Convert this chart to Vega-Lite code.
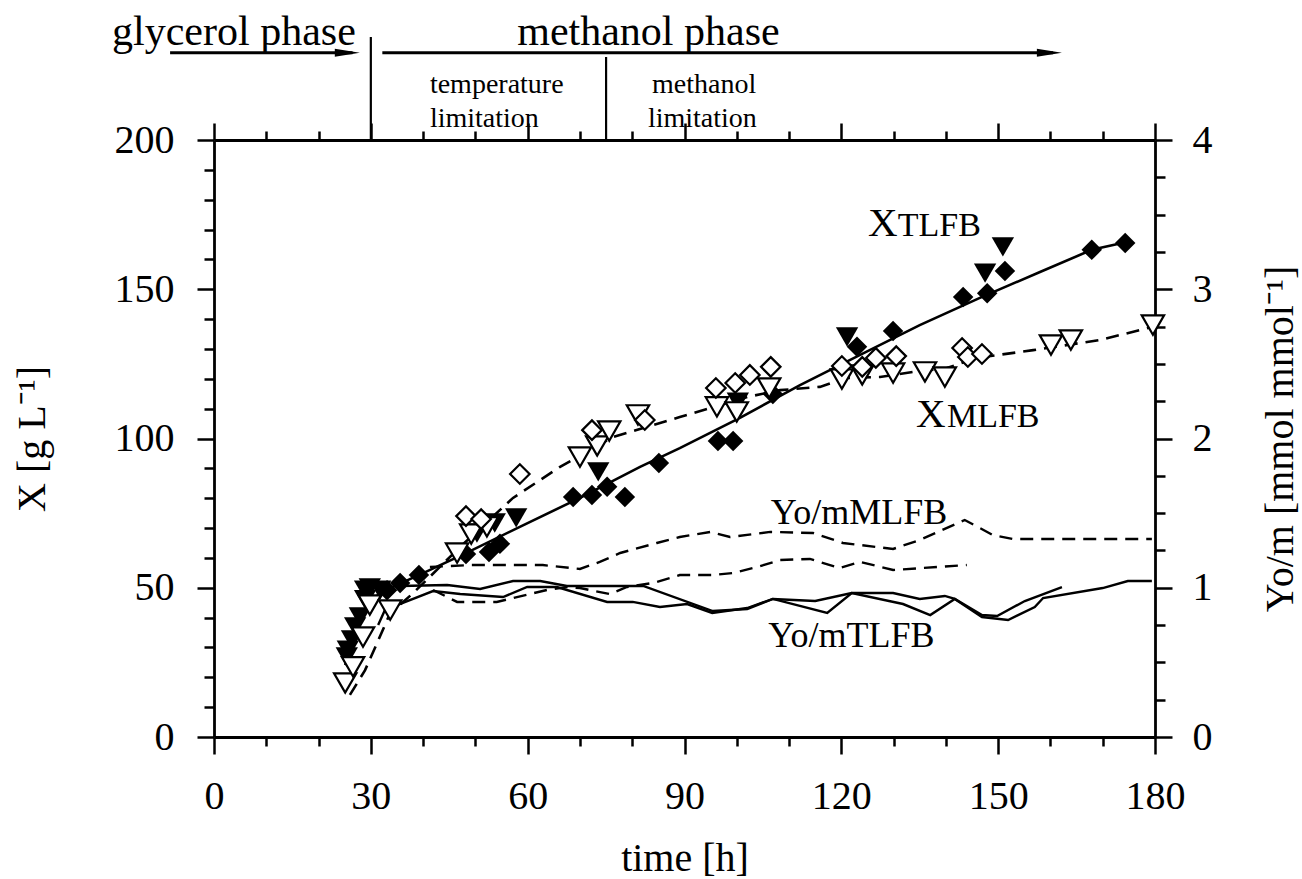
{
  "$schema": "https://vega.github.io/schema/vega-lite/v6.json",
  "width": 941,
  "height": 597,
  "autosize": "none",
  "padding": {"left": 214, "top": 140, "right": 147, "bottom": 142},
  "background": "white",
  "config": {
    "view": {"stroke": null},
    "font": "Liberation Serif",
    "text": {"font": "Liberation Serif", "color": "black"},
    "axis": {
      "grid": false,
      "domainColor": "black",
      "domainWidth": 2.8,
      "tickColor": "black",
      "tickWidth": 2.5,
      "labelColor": "black",
      "titleColor": "black",
      "labelFont": "Liberation Serif",
      "titleFont": "Liberation Serif",
      "labelFontSize": 40,
      "titleFontSize": 40,
      "titleFontWeight": "normal",
      "labelFlush": false,
      "labelOverlap": false,
      "labelBound": false
    }
  },
  "datasets": {
    "fitT": [
      {"t": 25.1, "X": 24.1}, {"t": 27.0, "X": 35.8}, {"t": 29.8, "X": 45.9}, {"t": 33.7, "X": 49.9},
      {"t": 40.0, "X": 54.9}, {"t": 48.2, "X": 61.6}, {"t": 58.5, "X": 70.4}, {"t": 70.0, "X": 80.1},
      {"t": 81.5, "X": 90.5}, {"t": 89.1, "X": 96.8}, {"t": 100.6, "X": 106.9}, {"t": 112.1, "X": 117.9},
      {"t": 123.6, "X": 128.0}, {"t": 135.0, "X": 138.0}, {"t": 146.5, "X": 147.1}, {"t": 158.0, "X": 155.8},
      {"t": 167.9, "X": 163.2}, {"t": 174.6, "X": 165.8}
    ],
    "fitM": [
      {"t": 26.0, "X": 14.1}, {"t": 28.9, "X": 22.4}, {"t": 31.2, "X": 31.5}, {"t": 33.7, "X": 41.5},
      {"t": 38.1, "X": 48.2}, {"t": 47.1, "X": 63.7}, {"t": 57.2, "X": 80.1}, {"t": 66.2, "X": 90.5},
      {"t": 76.3, "X": 100.5}, {"t": 82.8, "X": 103.9}, {"t": 89.1, "X": 107.2}, {"t": 102.0, "X": 113.9},
      {"t": 108.3, "X": 116.2}, {"t": 115.9, "X": 117.3}, {"t": 121.1, "X": 120.3}, {"t": 127.4, "X": 120.6},
      {"t": 133.7, "X": 122.3}, {"t": 140.2, "X": 123.6}, {"t": 145.9, "X": 127.0}, {"t": 156.7, "X": 129.6},
      {"t": 169.5, "X": 133.0}, {"t": 179.6, "X": 137.4}
    ],
    "yT": [
      {"run": "T1", "t": 35.6, "Y": 1.012}, {"run": "T1", "t": 44.6, "Y": 1.018}, {"run": "T1", "t": 50.9, "Y": 0.992},
      {"run": "T1", "t": 57.2, "Y": 1.045}, {"run": "T1", "t": 62.4, "Y": 1.045}, {"run": "T1", "t": 67.5, "Y": 1.012},
      {"run": "T1", "t": 82.1, "Y": 1.012}, {"run": "T1", "t": 95.4, "Y": 0.844}, {"run": "T1", "t": 102.0, "Y": 0.858},
      {"run": "T1", "t": 106.9, "Y": 0.925}, {"run": "T1", "t": 115.0, "Y": 0.911}, {"run": "T1", "t": 122.0, "Y": 0.965},
      {"run": "T1", "t": 129.9, "Y": 0.965}, {"run": "T1", "t": 135.0, "Y": 0.925}, {"run": "T1", "t": 139.8, "Y": 0.945},
      {"run": "T1", "t": 141.7, "Y": 0.925}, {"run": "T1", "t": 146.9, "Y": 0.817}, {"run": "T1", "t": 149.8, "Y": 0.811},
      {"run": "T1", "t": 155.1, "Y": 0.911}, {"run": "T1", "t": 162.2, "Y": 1.005},
      {"run": "T2", "t": 31.4, "Y": 0.75}, {"run": "T2", "t": 32.7, "Y": 0.851}, {"run": "T2", "t": 41.9, "Y": 0.978},
      {"run": "T2", "t": 47.1, "Y": 0.958}, {"run": "T2", "t": 55.3, "Y": 0.938}, {"run": "T2", "t": 59.9, "Y": 1.005},
      {"run": "T2", "t": 65.6, "Y": 1.005}, {"run": "T2", "t": 75.2, "Y": 0.905}, {"run": "T2", "t": 80.1, "Y": 0.905},
      {"run": "T2", "t": 85.3, "Y": 0.871}, {"run": "T2", "t": 90.5, "Y": 0.891}, {"run": "T2", "t": 95.3, "Y": 0.831},
      {"run": "T2", "t": 102.0, "Y": 0.864}, {"run": "T2", "t": 106.9, "Y": 0.925}, {"run": "T2", "t": 117.3, "Y": 0.831},
      {"run": "T2", "t": 122.0, "Y": 0.965}, {"run": "T2", "t": 131.8, "Y": 0.891}, {"run": "T2", "t": 137.0, "Y": 0.817},
      {"run": "T2", "t": 141.7, "Y": 0.925}, {"run": "T2", "t": 146.9, "Y": 0.804}, {"run": "T2", "t": 151.9, "Y": 0.784},
      {"run": "T2", "t": 157.0, "Y": 0.871}, {"run": "T2", "t": 158.6, "Y": 0.931}, {"run": "T2", "t": 170.0, "Y": 0.998},
      {"run": "T2", "t": 174.8, "Y": 1.045}, {"run": "T2", "t": 179.4, "Y": 1.045}
    ],
    "yM": [
      {"run": "M1", "t": 41.3, "Y": 1.139}, {"run": "M1", "t": 49.0, "Y": 1.152}, {"run": "M1", "t": 62.9, "Y": 1.152},
      {"run": "M1", "t": 70.0, "Y": 1.126}, {"run": "M1", "t": 73.8, "Y": 1.173}, {"run": "M1", "t": 77.7, "Y": 1.233},
      {"run": "M1", "t": 84.7, "Y": 1.300}, {"run": "M1", "t": 89.1, "Y": 1.340}, {"run": "M1", "t": 94.9, "Y": 1.374},
      {"run": "M1", "t": 98.7, "Y": 1.340}, {"run": "M1", "t": 106.4, "Y": 1.374}, {"run": "M1", "t": 114.6, "Y": 1.367},
      {"run": "M1", "t": 120.3, "Y": 1.300}, {"run": "M1", "t": 129.9, "Y": 1.260}, {"run": "M1", "t": 135.0, "Y": 1.320},
      {"run": "M1", "t": 143.6, "Y": 1.454}, {"run": "M1", "t": 149.0, "Y": 1.353}, {"run": "M1", "t": 152.8, "Y": 1.327},
      {"run": "M1", "t": 179.4, "Y": 1.327},
      {"run": "M2", "t": 41.9, "Y": 0.985}, {"run": "M2", "t": 46.5, "Y": 0.905}, {"run": "M2", "t": 54.1, "Y": 0.905},
      {"run": "M2", "t": 57.2, "Y": 0.931}, {"run": "M2", "t": 63.7, "Y": 0.985}, {"run": "M2", "t": 67.5, "Y": 1.005},
      {"run": "M2", "t": 70.0, "Y": 0.998}, {"run": "M2", "t": 75.7, "Y": 0.958}, {"run": "M2", "t": 79.0, "Y": 1.005},
      {"run": "M2", "t": 84.0, "Y": 1.032}, {"run": "M2", "t": 89.1, "Y": 1.085}, {"run": "M2", "t": 95.4, "Y": 1.085},
      {"run": "M2", "t": 99.3, "Y": 1.099}, {"run": "M2", "t": 103.9, "Y": 1.139}, {"run": "M2", "t": 108.3, "Y": 1.186},
      {"run": "M2", "t": 114.0, "Y": 1.193}, {"run": "M2", "t": 119.7, "Y": 1.132}, {"run": "M2", "t": 123.6, "Y": 1.173},
      {"run": "M2", "t": 129.9, "Y": 1.119}, {"run": "M2", "t": 144.0, "Y": 1.152}
    ],
    "triT": [
      {"t": 25.4, "X": 26.8}, {"t": 25.6, "X": 29.1}, {"t": 26.4, "X": 32.5}, {"t": 27.0, "X": 36.9},
      {"t": 27.9, "X": 40.2}, {"t": 28.9, "X": 46.0}, {"t": 28.9, "X": 49.2}, {"t": 29.8, "X": 49.9},
      {"t": 31.8, "X": 49.2}, {"t": 50.3, "X": 68.3}, {"t": 53.7, "X": 71.7}, {"t": 57.8, "X": 73.4},
      {"t": 73.5, "X": 88.8}, {"t": 100.2, "X": 112.2}, {"t": 121.1, "X": 134.0}, {"t": 147.5, "X": 155.4},
      {"t": 150.9, "X": 164.2}
    ],
    "diaT": [
      {"t": 33.1, "X": 49.2}, {"t": 35.6, "X": 51.6}, {"t": 39.2, "X": 54.3}, {"t": 48.2, "X": 61.3},
      {"t": 52.6, "X": 62.0}, {"t": 54.7, "X": 64.7}, {"t": 68.7, "X": 80.4}, {"t": 72.3, "X": 81.1},
      {"t": 75.2, "X": 83.8}, {"t": 78.6, "X": 80.4}, {"t": 85.1, "X": 91.8}, {"t": 96.4, "X": 99.2},
      {"t": 99.3, "X": 99.2}, {"t": 106.9, "X": 114.9}, {"t": 123.0, "X": 130.7}, {"t": 129.9, "X": 136.0},
      {"t": 143.3, "X": 147.4}, {"t": 147.9, "X": 148.7}, {"t": 151.3, "X": 156.1}, {"t": 167.9, "X": 163.2},
      {"t": 174.3, "X": 165.5}
    ],
    "triM": [
      {"t": 25.1, "X": 18.1}, {"t": 26.6, "X": 23.5}, {"t": 28.5, "X": 33.5}, {"t": 29.8, "X": 44.2},
      {"t": 33.7, "X": 42.5}, {"t": 46.5, "X": 61.6}, {"t": 49.2, "X": 68.0}, {"t": 52.2, "X": 70.4},
      {"t": 70.0, "X": 93.8}, {"t": 73.3, "X": 97.5}, {"t": 75.6, "X": 102.5}, {"t": 81.1, "X": 107.9},
      {"t": 96.2, "X": 110.6}, {"t": 100.0, "X": 108.9}, {"t": 106.2, "X": 116.9}, {"t": 120.1, "X": 119.9},
      {"t": 124.0, "X": 121.3}, {"t": 129.9, "X": 121.9}, {"t": 136.0, "X": 122.3}, {"t": 139.8, "X": 120.6},
      {"t": 160.1, "X": 131.3}, {"t": 163.9, "X": 133.0}, {"t": 179.6, "X": 138.0}
    ],
    "diaM": [
      {"t": 48.2, "X": 74.0}, {"t": 51.1, "X": 73.0}, {"t": 58.5, "X": 88.1}, {"t": 72.3, "X": 102.8},
      {"t": 82.4, "X": 106.2}, {"t": 96.0, "X": 116.9}, {"t": 99.7, "X": 118.6}, {"t": 102.5, "X": 121.3},
      {"t": 106.5, "X": 124.0}, {"t": 120.1, "X": 124.3}, {"t": 124.0, "X": 124.0}, {"t": 126.6, "X": 127.0},
      {"t": 130.5, "X": 127.6}, {"t": 143.1, "X": 130.3}, {"t": 144.2, "X": 127.3}, {"t": 146.9, "X": 128.3}
    ],
    "vlines": [
      {"t": 30, "top": 234.5, "bottom": 200},
      {"t": 75, "top": 227.8, "bottom": 200}
    ],
    "arrows": [
      {"from": -8.4, "to": 26.5, "X": 229.2},
      {"from": 32.2, "to": 160.5, "X": 229.2}
    ],
    "heads": [
      {"t": 25.5, "X": 229.2},
      {"t": 159.8, "X": 229.2}
    ],
    "phases": [
      {"t": -19.5, "X": 231.8, "label": "glycerol phase"},
      {"t": 58.0, "X": 231.8, "label": "methanol phase"}
    ],
    "limits": [
      {"t": 41.3, "X": 215.6, "label": "temperature"},
      {"t": 41.3, "X": 204.4, "label": "limitation"},
      {"t": 83.8, "X": 215.6, "label": "methanol"},
      {"t": 83.0, "X": 204.4, "label": "limitation"}
    ],
    "seriesBig": [
      {"t": 125.1, "X": 167.8, "label": "X"},
      {"t": 134.3, "X": 103.9, "label": "X"}
    ],
    "seriesSub": [
      {"t": 130.8, "X": 167.8, "label": "TLFB"},
      {"t": 140.2, "X": 103.9, "label": "MLFB"}
    ],
    "seriesY": [
      {"t": 106.5, "X": 71.2, "label": "Yo/mMLFB"},
      {"t": 106.0, "X": 30.0, "label": "Yo/mTLFB"}
    ]
  },
  "resolve": {"scale": {"y": "independent"}, "axis": {"x": "independent", "y": "independent"}},
  "layer": [
    {
      "data": {"name": "fitT"},
      "mark": {"type": "line", "color": "black", "strokeWidth": 2.6},
      "encoding": {
        "x": {"field": "t", "type": "quantitative", "scale": {"domain": [0, 180], "nice": false},
          "axis": {"orient": "bottom", "title": "time [h]", "values": [0,10,20,30,40,50,60,70,80,90,100,110,120,130,140,150,160,170,180],
            "labelExpr": "datum.value % 30 == 0 ? datum.label : ''",
            "tickSize": {"condition": {"test": "datum.value % 30 == 0", "value": 17}, "value": 9},
            "labelPadding": 22, "titlePadding": 22}},
        "y": {"field": "X", "type": "quantitative", "scale": {"domain": [0, 200], "nice": false},
          "axis": {"orient": "left", "title": "X [g L⁻¹]", "values": [0,10,20,30,40,50,60,70,80,90,100,110,120,130,140,150,160,170,180,190,200],
            "labelExpr": "datum.value % 50 == 0 ? datum.label : ''",
            "tickSize": {"condition": {"test": "datum.value % 50 == 0", "value": 17}, "value": 10},
            "labelPadding": 23, "titlePadding": 62}}
      }
    },
    {
      "data": {"name": "fitM"},
      "mark": {"type": "line", "color": "black", "strokeWidth": 2.6, "strokeDash": [13, 8]},
      "encoding": {
        "x": {"field": "t", "type": "quantitative", "scale": {"domain": [0, 180], "nice": false}, "axis": null},
        "y": {"field": "X", "type": "quantitative", "scale": {"domain": [0, 200], "nice": false}, "axis": null}
      }
    },
    {
      "data": {"name": "yT"},
      "mark": {"type": "line", "color": "black", "strokeWidth": 2.4},
      "encoding": {
        "x": {"field": "t", "type": "quantitative", "scale": {"domain": [0, 180], "nice": false}, "axis": null},
        "y": {"field": "Y", "type": "quantitative", "scale": {"domain": [0, 4], "nice": false},
          "axis": {"orient": "right", "title": "Yo/m [mmol mmol⁻¹]", "titleAngle": 270,
            "values": [0,0.25,0.5,0.75,1,1.25,1.5,1.75,2,2.25,2.5,2.75,3,3.25,3.5,3.75,4],
            "labelExpr": "datum.value % 1 == 0 ? format(datum.value, 'd') : ''",
            "tickSize": {"condition": {"test": "datum.value % 1 == 0", "value": 17}, "value": 10},
            "labelPadding": 20, "titlePadding": 88}},
        "detail": {"field": "run", "type": "nominal"}
      }
    },
    {
      "data": {"name": "yM"},
      "mark": {"type": "line", "color": "black", "strokeWidth": 2.4, "strokeDash": [13, 8]},
      "encoding": {
        "x": {"field": "t", "type": "quantitative", "scale": {"domain": [0, 180], "nice": false}, "axis": null},
        "y": {"field": "Y", "type": "quantitative", "scale": {"domain": [0, 4], "nice": false}, "axis": null},
        "detail": {"field": "run", "type": "nominal"}
      }
    },
    {
      "data": {"name": "triT"},
      "mark": {"type": "point", "shape": "triangle-down", "filled": true, "color": "black", "size": 500, "opacity": 1},
      "encoding": {
        "x": {"field": "t", "type": "quantitative", "scale": {"domain": [0, 180], "nice": false}, "axis": null},
        "y": {"field": "X", "type": "quantitative", "scale": {"domain": [0, 200], "nice": false}, "axis": null}
      }
    },
    {
      "data": {"name": "diaT"},
      "mark": {"type": "point", "shape": "diamond", "filled": true, "color": "black", "size": 420, "opacity": 1},
      "encoding": {
        "x": {"field": "t", "type": "quantitative", "scale": {"domain": [0, 180], "nice": false}, "axis": null},
        "y": {"field": "X", "type": "quantitative", "scale": {"domain": [0, 200], "nice": false}, "axis": null}
      }
    },
    {
      "data": {"name": "triM"},
      "mark": {"type": "point", "shape": "triangle-down", "fill": "white", "stroke": "black", "strokeWidth": 2.2, "size": 500, "opacity": 1, "fillOpacity": 1},
      "encoding": {
        "x": {"field": "t", "type": "quantitative", "scale": {"domain": [0, 180], "nice": false}, "axis": null},
        "y": {"field": "X", "type": "quantitative", "scale": {"domain": [0, 200], "nice": false}, "axis": null}
      }
    },
    {
      "data": {"name": "diaM"},
      "mark": {"type": "point", "shape": "diamond", "fill": "white", "stroke": "black", "strokeWidth": 2.2, "size": 380, "opacity": 1, "fillOpacity": 1},
      "encoding": {
        "x": {"field": "t", "type": "quantitative", "scale": {"domain": [0, 180], "nice": false}, "axis": null},
        "y": {"field": "X", "type": "quantitative", "scale": {"domain": [0, 200], "nice": false}, "axis": null}
      }
    },
    {
      "data": {"name": "vlines"},
      "mark": {"type": "rule", "color": "black", "strokeWidth": 2.2},
      "encoding": {
        "x": {"field": "t", "type": "quantitative", "scale": {"domain": [0, 180], "nice": false},
          "axis": {"orient": "top", "title": null, "values": [0,10,20,30,40,50,60,70,80,90,100,110,120,130,140,150,160,170,180],
            "labels": false,
            "tickSize": {"condition": {"test": "datum.value % 30 == 0", "value": 17}, "value": 9}}},
        "y": {"field": "top", "type": "quantitative", "scale": {"domain": [0, 200], "nice": false}, "axis": null},
        "y2": {"field": "bottom"}
      }
    },
    {
      "data": {"name": "arrows"},
      "mark": {"type": "rule", "color": "black", "strokeWidth": 3},
      "encoding": {
        "x": {"field": "from", "type": "quantitative", "scale": {"domain": [0, 180], "nice": false}, "axis": null},
        "x2": {"field": "to"},
        "y": {"field": "X", "type": "quantitative", "scale": {"domain": [0, 200], "nice": false}, "axis": null}
      }
    },
    {
      "data": {"name": "heads"},
      "mark": {"type": "point", "shape": "M-1,-0.32L1,0L-1,0.32Z", "filled": true, "color": "black", "size": 625, "opacity": 1},
      "encoding": {
        "x": {"field": "t", "type": "quantitative", "scale": {"domain": [0, 180], "nice": false}, "axis": null},
        "y": {"field": "X", "type": "quantitative", "scale": {"domain": [0, 200], "nice": false}, "axis": null}
      }
    },
    {
      "data": {"name": "phases"},
      "mark": {"type": "text", "align": "left", "baseline": "alphabetic", "fontSize": 42, "font": "Liberation Serif", "color": "black"},
      "encoding": {
        "x": {"field": "t", "type": "quantitative", "scale": {"domain": [0, 180], "nice": false}, "axis": null},
        "y": {"field": "X", "type": "quantitative", "scale": {"domain": [0, 200], "nice": false}, "axis": null},
        "text": {"field": "label"}
      }
    },
    {
      "data": {"name": "limits"},
      "mark": {"type": "text", "align": "left", "baseline": "alphabetic", "fontSize": 28, "font": "Liberation Serif", "color": "black"},
      "encoding": {
        "x": {"field": "t", "type": "quantitative", "scale": {"domain": [0, 180], "nice": false}, "axis": null},
        "y": {"field": "X", "type": "quantitative", "scale": {"domain": [0, 200], "nice": false}, "axis": null},
        "text": {"field": "label"}
      }
    },
    {
      "data": {"name": "seriesBig"},
      "mark": {"type": "text", "align": "left", "baseline": "alphabetic", "fontSize": 41, "font": "Liberation Serif", "color": "black"},
      "encoding": {
        "x": {"field": "t", "type": "quantitative", "scale": {"domain": [0, 180], "nice": false}, "axis": null},
        "y": {"field": "X", "type": "quantitative", "scale": {"domain": [0, 200], "nice": false}, "axis": null},
        "text": {"field": "label"}
      }
    },
    {
      "data": {"name": "seriesSub"},
      "mark": {"type": "text", "align": "left", "baseline": "alphabetic", "fontSize": 34, "font": "Liberation Serif", "color": "black"},
      "encoding": {
        "x": {"field": "t", "type": "quantitative", "scale": {"domain": [0, 180], "nice": false}, "axis": null},
        "y": {"field": "X", "type": "quantitative", "scale": {"domain": [0, 200], "nice": false}, "axis": null},
        "text": {"field": "label"}
      }
    },
    {
      "data": {"name": "seriesY"},
      "mark": {"type": "text", "align": "left", "baseline": "alphabetic", "fontSize": 36, "font": "Liberation Serif", "color": "black"},
      "encoding": {
        "x": {"field": "t", "type": "quantitative", "scale": {"domain": [0, 180], "nice": false}, "axis": null},
        "y": {"field": "X", "type": "quantitative", "scale": {"domain": [0, 200], "nice": false}, "axis": null},
        "text": {"field": "label"}
      }
    }
  ]
}
